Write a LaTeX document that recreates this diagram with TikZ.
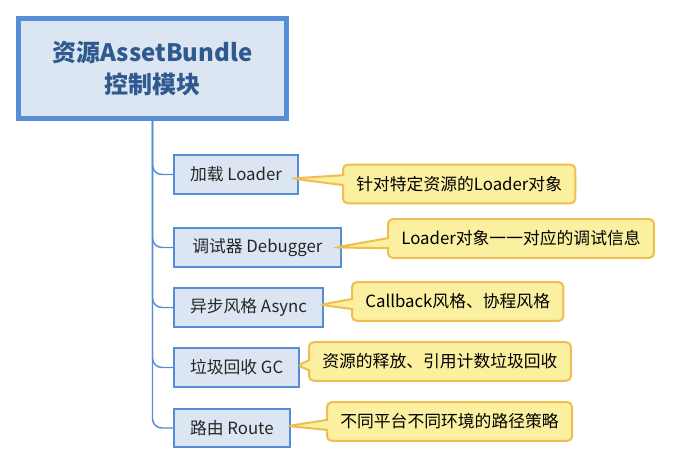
\documentclass[tikz,border=0pt]{standalone}
\usepackage{fontspec}
\setmainfont{Noto Sans CJK SC}
\usepackage{tikz}
\usetikzlibrary{shapes.callouts}
\definecolor{boxblue}{HTML}{558ED5}
\definecolor{boxfill}{HTML}{DCE6F2}
\definecolor{roottext}{HTML}{2F5A8F}
\definecolor{noteline}{HTML}{F0BE50}
\definecolor{notefill}{HTML}{FBEFA0}

\begin{document}
\begin{tikzpicture}[x=0.75pt,y=-0.75pt,semithick,
                    font=\fontsize{12.6}{15}\selectfont]
\tikzstyle{root}=[draw=boxblue,line width=3.75pt,fill=boxfill,text=roottext,align=center,
  font=\fontsize{18}{24}\selectfont\bfseries,minimum width=201pt,minimum height=75pt]
  	\tikzstyle{item}=[draw=boxblue,line width=1.5pt,fill=boxfill,text=black!85,anchor=west,
  minimum height=29pt,inner xsep=12pt]
\tikzstyle{note}=[rectangle callout,draw=noteline,line width=1.5pt,fill=notefill,anchor=west,
  rounded corners=3.5pt,callout pointer width=7.5pt,minimum height=29pt,inner xsep=10pt]
\tikzstyle{branch}=[draw=boxblue,line width=1.1pt,rounded corners=7pt]
\useasboundingbox (0,0) rectangle (675,466);

\node [root] (root) at (152.5,68.5) {资源AssetBundle\\控制模块};
\node [item] (0) at (173,174.5) {加载 Loader};
\node [item,minimum width=125pt] (1) at (173,247.5) {调试器 Debugger};
\node [item] (2) at (173,307.5) {异步风格 Async};
\node [item] (3) at (173,367.5) {垃圾回收 GC};
\node [item] (4) at (173,428) {路由 Route};

\foreach \i in {0,...,4}
  \draw [branch] (root.south) |- (\i.west);

\coordinate (t0) at ([xshift=-5pt,yshift=-3pt]0.east);
\coordinate (t1) at ([xshift=-5pt]1.east);
\coordinate (t2) at ([xshift=-3pt,yshift=2pt]2.east);
\coordinate (t3) at ([xshift=-2pt,yshift=1.5pt]3.east);
\coordinate (t4) at ([xshift=-2pt,yshift=1.5pt]4.east);

\node [note,callout absolute pointer=(t0)] (n0) at (342,184) {针对特定资源的Loader对象};
\node [note,callout absolute pointer=(t1)] (n1) at (387,238.5) {Loader对象一一对应的调试信息};
\node [note,callout absolute pointer=(t2)] (n2) at (351,301.5) {Callback风格、协程风格};
\node [note,callout absolute pointer=(t3)] (n3) at (308,361.5) {资源的释放、引用计数垃圾回收};
\node [note,callout absolute pointer=(t4)] (n4) at (326,421.5) {不同平台不同环境的路径策略};

	\end{tikzpicture}
\end{document}
